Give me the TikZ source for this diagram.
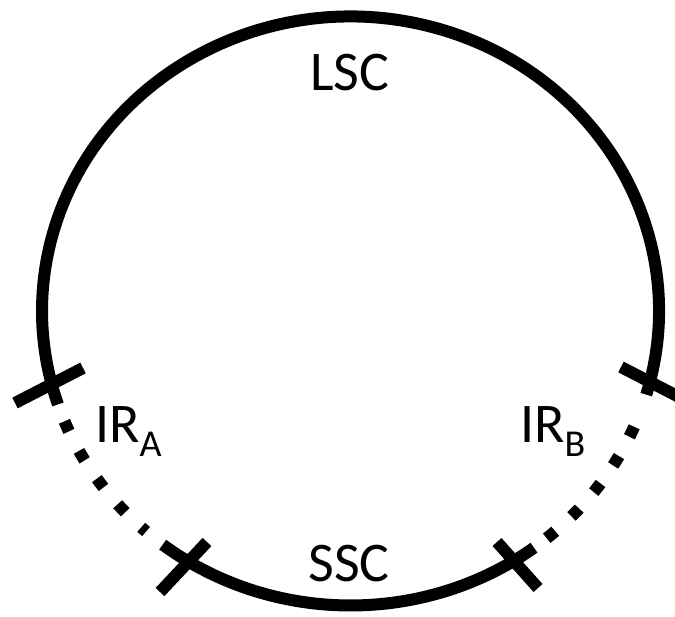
\documentclass[tikz,border=0pt]{standalone}
\usepackage{fontspec}
\setmainfont{Carlito}
\begin{document}
\begin{tikzpicture}[x=1pt,y=1pt,
  ring/.style={line width=12pt, line cap=butt},
  gapring/.style={line width=12pt, line cap=butt, dash pattern=on 11pt off 22pt},
  tickbar/.style={line width=12pt, line cap=butt},
  lbl/.style={inner sep=0pt, anchor=base, font=\fontsize{56}{56}\selectfont},
  irlbl/.style={inner sep=0pt, anchor=base west, font=\fontsize{56}{56}\selectfont}]
\newcommand{\subtxt}[1]{\raisebox{-14pt}{\fontsize{38}{38}\selectfont #1}}
\useasboundingbox (0,0) rectangle (675,617);
\coordinate (c) at (350.5,306);
% long straight section (upper arc)
\draw[ring] (c) ++(-16.5:308.5 and 294.5)
  arc[start angle=-16.5, end angle=198.5, x radius=308.5, y radius=294.5];
% short straight section (lower arc)
\draw[ring] (c) ++(232.5:308.5 and 294.5)
  arc[start angle=232.5, end angle=306.5, x radius=308.5, y radius=294.5];
% interaction regions (dotted arcs)
\draw[gapring] (c) ++(202:308.5 and 294.5)
  arc[start angle=202, end angle=228.5, x radius=308.5, y radius=294.5];
\draw[gapring] (c) ++(309.5:308.5 and 294.5)
  arc[start angle=309.5, end angle=339, x radius=308.5, y radius=294.5];
% boundary ticks
\coordinate (ul1) at (15,214);  \coordinate (ul2) at (83,249);
\coordinate (ll1) at (207,75);  \coordinate (ll2) at (160,25);
\coordinate (ur1) at (621,250); \coordinate (ur2) at (681,219);
\coordinate (lr1) at (497,75);  \coordinate (lr2) at (538,29);
\draw[tickbar] (ul1) -- (ul2);
\draw[tickbar] (ll1) -- (ll2);
\draw[tickbar] (ur1) -- (ur2);
\draw[tickbar] (lr1) -- (lr2);
% labels
\node[lbl] (lsc) at (350,526) {LSC};
\node[lbl] (ssc) at (349,35) {SSC};
\node[irlbl] (ira) at (95,174) {IR\subtxt{A}};
\node[irlbl] (irb) at (520,174) {IR\subtxt{B}};
\end{tikzpicture}
\end{document}
